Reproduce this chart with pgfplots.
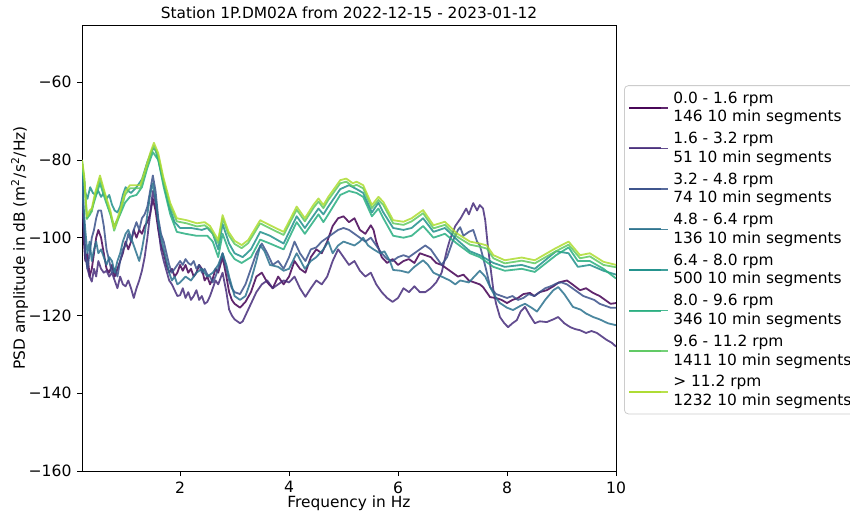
\documentclass[border=0pt]{standalone}
\usepackage{pgfplots}
\pgfplotsset{compat=1.18}
\usepackage{fontspec}
\setmainfont{DejaVu Sans}
\definecolor{c1}{HTML}{440154}
\definecolor{c2}{HTML}{472D7B}
\definecolor{c3}{HTML}{3B528B}
\definecolor{c4}{HTML}{2C728E}
\definecolor{c5}{HTML}{21918C}
\definecolor{c6}{HTML}{28AE80}
\definecolor{c7}{HTML}{5EC962}
\definecolor{c8}{HTML}{ADDC30}
\begin{document}
\fontsize{7.7}{9.4}\selectfont
\begin{tikzpicture}
\begin{axis}[
  at={(41pt,22pt)}, anchor=south west,
  scale only axis, width=267pt, height=223pt,
  xmin=0.2, xmax=10, ymin=-160, ymax=-45.3,
  xtick={2,4,6,8,10}, xticklabels={2,4,6,8,10},
  ytick={-160,-140,-120,-100,-80,-60},
  yticklabels={−160,−140,−120,−100,−80,−60},
  tick align=outside, tick pos=left, major tick length=2.5pt,
  tick style={black, line width=0.4pt},
  axis line style={black, line width=0.4pt},
  ticklabel style={font=\fontsize{7.8}{9.4}\selectfont},
  label style={font=\fontsize{7.7}{9.4}\selectfont},
  xlabel={Frequency in Hz},
  ylabel={PSD amplitude in dB (m\textsuperscript{2}/s\textsuperscript{2}/Hz)},
  xlabel style={yshift=4pt},
  ylabel style={yshift=-5pt},
  title={Station 1P.DM02A from 2022-12-15 - 2023-01-12},
  title style={font=\fontsize{7.7}{9.4}\selectfont, yshift=-5.5pt},
  every axis plot/.append style={line width=0.9pt, opacity=0.85, line join=round},
  legend image code/.code={\draw[#1, line width=1pt] (0pt,0pt) -- (16pt,0pt); \path (0pt,0pt) -- (19.5pt,0pt);},
  legend style={at={(1.015,0.865)}, anchor=north west, draw=black!20, rounded corners=2pt,
    font=\fontsize{7.7}{9.4}\selectfont, cells={align=left}, row sep=0pt, inner xsep=2pt, inner ysep=1pt},
  legend cell align=left,
]
\addplot[c1] coordinates {(0.2,-84)(0.23,-100)(0.26,-106)(0.3,-104)(0.34,-110)(0.38,-108)(0.42,-104)(0.46,-100)(0.5,-98)(0.55,-100)(0.6,-104)(0.65,-108)(0.7,-109)(0.75,-107)(0.8,-110)(0.85,-108)(0.9,-106)(0.95,-104)(1.0,-101)(1.05,-103)(1.1,-101)(1.15,-98)(1.2,-100)(1.25,-98)(1.3,-99)(1.35,-97)(1.4,-96)(1.45,-94)(1.5,-90)(1.55,-93)(1.6,-98)(1.65,-102)(1.7,-104)(1.75,-107)(1.8,-109)(1.85,-108)(1.9,-110)(1.95,-109)(2.0,-107)(2.05,-108.5)(2.1,-107)(2.15,-109)(2.2,-108)(2.25,-110)(2.3,-109)(2.35,-107)(2.4,-108)(2.45,-111)(2.5,-110)(2.55,-112)(2.6,-110.5)(2.65,-108)(2.7,-109)(2.78,-105)(2.85,-110)(2.9,-114)(2.95,-116)(3.0,-117)(3.1,-118)(3.2,-116.5)(3.3,-114)(3.4,-110)(3.5,-109)(3.6,-111.5)(3.7,-113)(3.8,-110)(3.9,-112)(4.0,-110)(4.1,-106)(4.2,-108)(4.3,-109)(4.4,-105)(4.5,-103)(4.6,-104)(4.7,-101)(4.8,-97)(4.9,-95)(5.0,-94.5)(5.1,-96)(5.2,-95)(5.3,-98)(5.4,-99)(5.5,-96.8)(5.55,-98)(5.6,-101)(5.7,-105)(5.8,-106.5)(5.9,-105.5)(6.0,-107)(6.1,-106)(6.2,-105.5)(6.3,-106.5)(6.4,-104)(6.5,-104.5)(6.6,-105)(6.7,-106.5)(6.8,-107)(6.9,-108)(7.0,-109)(7.1,-110)(7.2,-109.5)(7.3,-111)(7.4,-111.5)(7.5,-112)(7.56,-112.7)(7.69,-115.3)(7.8,-115.5)(7.9,-116)(8.0,-116.8)(8.1,-116)(8.2,-115.5)(8.3,-114.5)(8.42,-114.2)(8.5,-115)(8.6,-114)(8.73,-113.5)(8.85,-112.5)(8.95,-111.5)(9.1,-111)(9.2,-112)(9.34,-113.5)(9.45,-113)(9.58,-114.2)(9.7,-115)(9.8,-116)(9.9,-117)(10,-116.8)};
\addlegendentry{0.0 - 1.6 rpm\\146 10 min segments}
\addplot[c2] coordinates {(0.2,-82)(0.23,-95)(0.26,-104)(0.3,-108)(0.34,-110)(0.38,-111.3)(0.42,-108)(0.46,-110)(0.5,-106)(0.55,-108)(0.6,-109)(0.65,-108.5)(0.7,-110)(0.75,-109)(0.8,-111)(0.85,-113)(0.9,-110)(0.95,-112)(1.0,-112.5)(1.05,-111)(1.1,-113)(1.15,-115.5)(1.2,-113)(1.25,-111)(1.3,-108.5)(1.35,-105)(1.4,-100)(1.45,-94)(1.5,-88)(1.55,-91)(1.6,-97)(1.65,-103)(1.7,-106)(1.75,-108.5)(1.8,-111)(1.85,-112)(1.9,-113.5)(1.95,-115)(2.0,-114.8)(2.05,-113)(2.1,-115.5)(2.15,-114)(2.2,-116)(2.25,-115)(2.3,-113.5)(2.35,-116)(2.4,-115)(2.45,-117)(2.5,-116.5)(2.55,-115)(2.6,-113)(2.65,-111)(2.7,-112)(2.78,-109)(2.85,-114)(2.9,-118.5)(2.95,-120)(3.0,-121)(3.05,-121.5)(3.1,-122)(3.15,-121.5)(3.2,-120)(3.3,-117)(3.4,-114)(3.5,-112)(3.6,-111)(3.7,-113)(3.8,-112)(3.9,-111)(4.0,-111.5)(4.1,-110)(4.2,-113)(4.3,-115.2)(4.4,-113)(4.5,-111)(4.6,-112)(4.7,-110)(4.8,-106)(4.9,-103)(5.0,-105)(5.1,-107)(5.2,-106)(5.3,-108.5)(5.4,-110)(5.5,-109)(5.6,-112)(5.7,-114)(5.8,-115.5)(5.9,-116.5)(6.0,-115.5)(6.1,-113)(6.2,-114)(6.3,-112.5)(6.4,-114)(6.5,-114)(6.6,-113)(6.7,-111.5)(6.8,-109)(6.9,-103)(6.95,-100.6)(7.05,-97)(7.15,-95)(7.25,-92.5)(7.3,-94)(7.38,-91.1)(7.45,-93)(7.5,-91.6)(7.56,-92.5)(7.6,-95.5)(7.65,-102.4)(7.7,-108)(7.75,-113.5)(7.8,-117)(7.87,-120.4)(7.95,-122)(8.02,-123)(8.1,-122)(8.18,-121.2)(8.25,-119)(8.33,-117.8)(8.42,-120)(8.51,-122)(8.6,-121.5)(8.73,-121.7)(8.85,-121)(8.94,-120.4)(9.05,-122)(9.16,-123)(9.25,-123.5)(9.34,-123.8)(9.45,-124.5)(9.55,-124)(9.65,-124.5)(9.75,-125.5)(9.83,-126.3)(9.92,-127)(10,-128)};
\addlegendentry{1.6 - 3.2 rpm\\51 10 min segments}
\addplot[c3] coordinates {(0.2,-80)(0.23,-96)(0.26,-104)(0.3,-108)(0.34,-104)(0.38,-100)(0.42,-98)(0.46,-95)(0.5,-93)(0.55,-93)(0.6,-97)(0.65,-103)(0.7,-106)(0.75,-109)(0.8,-108)(0.85,-110)(0.9,-106)(0.95,-103)(1.0,-102)(1.05,-99)(1.1,-101)(1.15,-98)(1.2,-96)(1.25,-98)(1.3,-95)(1.35,-94)(1.4,-92)(1.45,-88)(1.5,-84)(1.55,-88)(1.6,-95)(1.65,-99)(1.7,-101)(1.75,-104)(1.8,-107)(1.85,-109)(1.9,-108)(1.95,-107)(2.0,-106)(2.05,-107)(2.1,-105.5)(2.15,-106.5)(2.2,-107)(2.25,-106)(2.3,-108)(2.35,-107)(2.4,-109)(2.45,-108)(2.5,-109.5)(2.55,-110)(2.6,-111.5)(2.65,-110)(2.7,-108)(2.78,-104)(2.85,-108)(2.9,-111)(2.95,-113)(3.0,-114)(3.1,-114.5)(3.2,-112)(3.3,-108)(3.4,-104)(3.5,-101.5)(3.6,-104)(3.7,-107)(3.8,-106)(3.9,-108)(4.0,-105)(4.1,-101)(4.2,-104)(4.3,-106)(4.4,-103)(4.5,-102.5)(4.6,-101)(4.7,-100)(4.8,-99)(4.9,-98)(5.0,-97.5)(5.1,-98)(5.2,-99)(5.3,-100)(5.4,-101)(5.5,-100)(5.6,-102)(5.7,-104)(5.8,-105.5)(5.9,-106)(6.0,-105)(6.1,-104.5)(6.2,-105)(6.3,-104)(6.4,-103)(6.5,-102)(6.6,-103)(6.7,-105)(6.8,-107)(6.9,-105)(7.0,-101)(7.1,-98)(7.14,-97.3)(7.2,-99.5)(7.3,-98.5)(7.38,-98)(7.45,-101)(7.5,-102)(7.56,-105)(7.63,-109)(7.69,-112.7)(7.8,-114.5)(7.9,-115)(8.0,-115.5)(8.1,-115)(8.2,-116)(8.3,-115.5)(8.4,-114.5)(8.5,-115)(8.6,-114)(8.7,-113)(8.8,-112.5)(8.92,-111.7)(9.0,-111.5)(9.1,-112)(9.2,-113)(9.3,-114)(9.4,-115)(9.5,-115.5)(9.6,-116)(9.7,-117)(9.8,-117.5)(9.9,-118)(10,-118)};
\addlegendentry{3.2 - 4.8 rpm\\74 10 min segments}
\addplot[c4] coordinates {(0.2,-81)(0.23,-92)(0.26,-98)(0.3,-104)(0.34,-101)(0.38,-106)(0.42,-103)(0.46,-101)(0.5,-104)(0.55,-103)(0.6,-105)(0.65,-107)(0.7,-105)(0.75,-106)(0.8,-109)(0.85,-106)(0.9,-104)(0.95,-101)(1.0,-99)(1.05,-98)(1.1,-100)(1.15,-102)(1.2,-104)(1.25,-106)(1.3,-103)(1.35,-99)(1.4,-94)(1.45,-89)(1.5,-86)(1.55,-90)(1.6,-96)(1.65,-100)(1.7,-103)(1.75,-106)(1.8,-109)(1.85,-111)(1.9,-110)(1.95,-112)(2.0,-111.5)(2.1,-110)(2.2,-111)(2.3,-109)(2.4,-108)(2.5,-110)(2.6,-109)(2.7,-107)(2.78,-104)(2.85,-107)(2.9,-110)(3.0,-115)(3.1,-116)(3.2,-115)(3.3,-111)(3.4,-106)(3.47,-102)(3.55,-103.5)(3.65,-107)(3.8,-107.5)(3.9,-108.5)(4.0,-108)(4.14,-104)(4.29,-108)(4.4,-106)(4.5,-105)(4.63,-103)(4.72,-101)(4.8,-104)(4.9,-102)(5.0,-101)(5.1,-101.5)(5.2,-102)(5.3,-101)(5.36,-100)(5.45,-102)(5.55,-103)(5.67,-104)(5.75,-103.5)(5.85,-106)(5.91,-108.3)(6.05,-108.5)(6.19,-109)(6.3,-107.5)(6.46,-105.8)(6.55,-107)(6.65,-109)(6.8,-110)(6.95,-111)(7.05,-112)(7.14,-111)(7.3,-111.5)(7.4,-110)(7.5,-108.5)(7.6,-110)(7.7,-113)(7.8,-115.5)(7.87,-116.8)(8.0,-118)(8.11,-118.6)(8.25,-117.5)(8.33,-117)(8.45,-118)(8.55,-119)(8.7,-116)(8.85,-113.5)(8.94,-112.7)(9.05,-114.5)(9.21,-117.8)(9.35,-118.5)(9.45,-119.5)(9.58,-120.4)(9.7,-121)(9.85,-122)(10,-122.5)};
\addlegendentry{4.8 - 6.4 rpm\\136 10 min segments}
\addplot[c5] coordinates {(0.2,-80)(0.25,-88)(0.3,-90)(0.35,-87)(0.4,-88.5)(0.45,-89)(0.5,-88)(0.55,-89.5)(0.6,-88.5)(0.65,-90)(0.7,-89)(0.75,-91.5)(0.8,-93)(0.85,-93.5)(0.9,-92)(0.95,-89)(1.0,-87)(1.05,-88)(1.1,-88.5)(1.2,-87)(1.3,-85)(1.4,-80.5)(1.5,-77)(1.55,-77.5)(1.6,-80)(1.7,-86)(1.8,-92)(1.9,-96)(2.0,-97.5)(2.2,-97.5)(2.4,-98)(2.5,-97.5)(2.6,-99)(2.7,-103)(2.78,-96.5)(2.9,-101.5)(3.0,-104)(3.15,-105)(3.3,-103)(3.47,-98.5)(3.65,-99.5)(3.9,-101.5)(4.14,-94.5)(4.29,-97.5)(4.54,-92.5)(4.63,-94)(4.72,-92)(4.94,-87.5)(5.1,-86.5)(5.24,-87.5)(5.36,-88.5)(5.52,-93.5)(5.64,-91)(5.73,-93.5)(5.91,-97.5)(6.1,-98)(6.25,-97.5)(6.46,-95)(6.65,-98.5)(6.86,-97.5)(7.08,-100.5)(7.32,-103.5)(7.5,-104.5)(7.75,-106.5)(7.96,-107.5)(8.27,-107)(8.51,-108)(8.9,-103.5)(9.13,-104)(9.3,-107.5)(9.52,-107)(9.77,-108.5)(10,-109.5)};
\addlegendentry{6.4 - 8.0 rpm\\500 10 min segments}
\addplot[c6] coordinates {(0.2,-82)(0.25,-86)(0.29,-95)(0.35,-94)(0.44,-90)(0.53,-86)(0.62,-90)(0.72,-94)(0.79,-97)(0.9,-94)(0.99,-91)(1.08,-89.5)(1.2,-89)(1.3,-87)(1.4,-82)(1.5,-78)(1.6,-80)(1.7,-87)(1.82,-94)(1.94,-98.5)(2.1,-99)(2.3,-99.5)(2.5,-99.5)(2.6,-101)(2.7,-105)(2.78,-99)(2.9,-103.5)(3.0,-105.5)(3.13,-106.5)(3.3,-105)(3.47,-100.5)(3.65,-101.5)(3.9,-103)(4.14,-96)(4.29,-99)(4.54,-94)(4.63,-96)(4.72,-94)(4.94,-89)(5.1,-88)(5.24,-88.5)(5.36,-89.5)(5.52,-94.5)(5.64,-92.5)(5.73,-95)(5.91,-99.5)(6.1,-100)(6.25,-99.5)(6.46,-97)(6.65,-100)(6.86,-99)(7.08,-101.5)(7.32,-104)(7.5,-105)(7.75,-107.5)(7.96,-108.5)(8.27,-108)(8.51,-108.8)(8.9,-104.5)(9.13,-102.5)(9.3,-106)(9.52,-106)(9.77,-108)(10,-110.5)};
\addlegendentry{8.0 - 9.6 rpm\\346 10 min segments}
\addplot[c7] coordinates {(0.2,-80.5)(0.24,-84.8)(0.29,-95.2)(0.34,-93.8)(0.38,-93.3)(0.44,-89.3)(0.53,-84.8)(0.62,-89.3)(0.72,-93.8)(0.79,-98.2)(0.9,-93.8)(0.99,-89)(1.08,-87.3)(1.17,-87.3)(1.27,-87.3)(1.36,-83.4)(1.45,-79.1)(1.52,-76.4)(1.6,-79.1)(1.69,-85.1)(1.82,-91.9)(1.94,-95.8)(2.12,-96.3)(2.31,-97.1)(2.45,-96.8)(2.55,-97.8)(2.7,-101.4)(2.78,-95)(2.89,-99.3)(3.0,-101.6)(3.13,-102.7)(3.25,-101.4)(3.47,-96.3)(3.65,-97.6)(3.9,-99.3)(4.14,-92.8)(4.29,-95.8)(4.45,-92.3)(4.54,-90.7)(4.63,-92.4)(4.72,-90.3)(4.94,-86)(5.05,-85.6)(5.17,-86.8)(5.24,-86.4)(5.36,-87.3)(5.52,-92.4)(5.64,-90.3)(5.73,-91.6)(5.91,-96.3)(6.1,-96.7)(6.25,-95.8)(6.46,-93.7)(6.65,-97.6)(6.86,-96.7)(7.08,-99.7)(7.32,-101.8)(7.5,-102.3)(7.63,-102.8)(7.75,-105.3)(7.96,-106.6)(8.27,-105.9)(8.51,-106.6)(8.88,-103.6)(9.13,-101.8)(9.34,-105.3)(9.52,-104.8)(9.77,-107)(10,-107.6)};
\addlegendentry{9.6 - 11.2 rpm\\1411 10 min segments}
\addplot[c8] coordinates {(0.2,-80)(0.24,-84)(0.29,-94.5)(0.34,-93)(0.38,-92.5)(0.44,-88.5)(0.53,-84)(0.62,-88.5)(0.72,-93)(0.79,-97.5)(0.9,-93)(0.99,-88.2)(1.08,-86.5)(1.17,-86.5)(1.27,-86.5)(1.36,-82.6)(1.45,-78.3)(1.52,-75.6)(1.6,-78.3)(1.69,-84.3)(1.82,-91.1)(1.94,-95)(2.12,-95.5)(2.31,-96.3)(2.45,-96)(2.55,-97)(2.7,-100.6)(2.78,-94.2)(2.89,-98.5)(3.0,-100.8)(3.13,-101.9)(3.25,-100.6)(3.47,-95.5)(3.65,-96.8)(3.9,-98.5)(4.14,-92)(4.29,-95)(4.45,-91.5)(4.54,-89.9)(4.63,-91.6)(4.72,-89.5)(4.94,-85.2)(5.05,-84.8)(5.17,-86)(5.24,-85.6)(5.36,-86.5)(5.52,-91.6)(5.64,-89.5)(5.73,-90.8)(5.91,-95.5)(6.1,-95.9)(6.25,-95)(6.46,-92.9)(6.65,-96.8)(6.86,-95.9)(7.08,-98.9)(7.32,-101)(7.5,-101.5)(7.63,-102)(7.75,-104.5)(7.96,-105.8)(8.27,-105.1)(8.51,-105.8)(8.88,-102.8)(9.13,-101)(9.34,-104.5)(9.52,-104)(9.77,-106.2)(10,-107)};
\addlegendentry{> 11.2 rpm\\1232 10 min segments}
\end{axis}
\pgfresetboundingbox
\useasboundingbox (0,0) rectangle (425pt,257.5pt);
\end{tikzpicture}
\end{document}
